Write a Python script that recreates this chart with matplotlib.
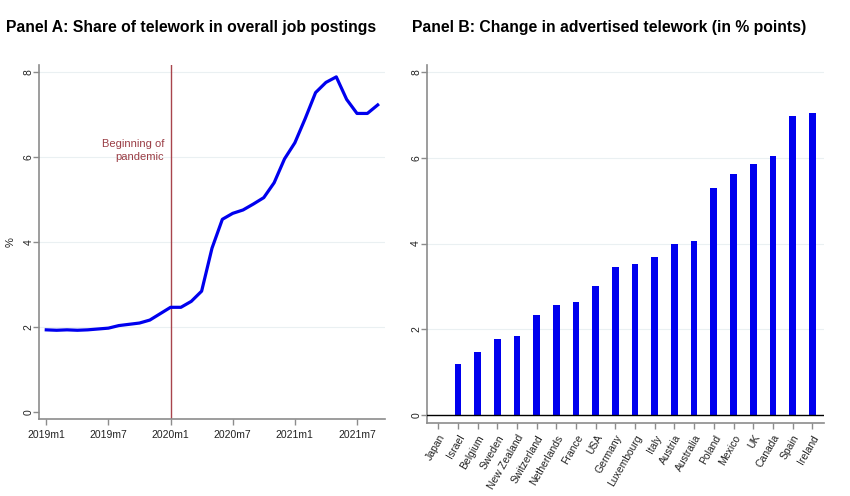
import numpy as np
import matplotlib.pyplot as plt

plt.rcParams['font.family'] = ['Liberation Sans', 'DejaVu Sans']

# --- Panel A: share of telework in job postings, monthly 2019m1..2021m9
share = [1.93, 1.92, 1.93, 1.92, 1.93, 1.95, 1.97, 2.03, 2.06, 2.09, 2.16, 2.31,
         2.46, 2.46, 2.60, 2.84, 3.85, 4.53, 4.67, 4.75, 4.89, 5.04, 5.39, 5.95,
         6.33, 6.90, 7.51, 7.75, 7.88, 7.35, 7.02, 7.02, 7.22]
month_ticks = [0, 6, 12, 18, 24, 30]
month_labels = ["2019m1", "2019m7", "2020m1", "2020m7", "2021m1", "2021m7"]
pandemic_start = 12

# --- Panel B: change in advertised telework by country (% points)
countries = ["Japan", "Israel", "Belgium", "Sweden", "New Zealand", "Switzerland",
             "Netherlands", "France", "USA", "Germany", "Luxembourg", "Italy",
             "Austria", "Australia", "Poland", "Mexico", "UK", "Canada", "Spain", "Ireland"]
change = [0.01, 1.19, 1.48, 1.78, 1.85, 2.34, 2.58, 2.65, 3.01, 3.45, 3.53, 3.69,
          3.99, 4.07, 5.30, 5.62, 5.86, 6.04, 6.97, 7.03]

spine_col = "#8c8c8c"
grid_col = "#eaf0f2"
line_col = "#0000ee"

fig = plt.figure(figsize=(8.5, 4.96), dpi=100)
axA = fig.add_axes([0.0459, 0.155, 0.407, 0.714])
axB = fig.add_axes([0.502, 0.148, 0.467, 0.721])


def style(ax):
    for s in ["top", "right"]:
        ax.spines[s].set_visible(False)
    for s in ["left", "bottom"]:
        ax.spines[s].set_color(spine_col)
        ax.spines[s].set_linewidth(1.2)
    ax.tick_params(colors=spine_col, labelcolor="#222222", labelsize=7.5, length=4, width=1)
    ax.tick_params(axis="y", pad=0)
    ax.set_yticks([0, 2, 4, 6, 8])
    for lab in ax.get_yticklabels():
        lab.set_rotation(90)
        lab.set_va("center")
    ax.set_ylim(-0.17, 8.16)
    for v in [2, 4, 6, 8]:
        ax.axhline(v, color=grid_col, lw=0.8, zorder=0)


# Panel A
x = np.arange(len(share))
style(axA)
axA.plot(x, share, color=line_col, lw=2.3, zorder=3)
axA.axvline(pandemic_start, color="#a8444c", lw=1.0, zorder=2)
axA.text(pandemic_start - 0.6, 6.15, "Beginning of\npandemic", ha="right", va="center",
         fontsize=8, color="#9a3d45", linespacing=1.35)
axA.set_xlim(-0.7, 32.7)
axA.set_xticks(month_ticks)
axA.set_xticklabels(month_labels)
axA.set_ylabel("%", fontsize=8, color="#222222", labelpad=6)
axA.set_title("Panel A: Share of telework in overall job postings", fontsize=11.3,
              fontweight="bold", pad=24, x=0.44)

# Panel B
xb = np.arange(len(countries))
style(axB)
axB.bar(xb, change, width=0.34, color=line_col, zorder=3)
axB.axhline(0, color="black", lw=1.0, zorder=4)
axB.set_xlim(-0.59, 19.58)
axB.set_xticks(xb)
axB.set_xticklabels(countries, rotation=60, ha="right", rotation_mode="anchor")
axB.set_title("Panel B: Change in advertised telework (in % points)", fontsize=11.3,
              fontweight="bold", pad=24, x=0.46)

fig.savefig("out.png", dpi=100)
